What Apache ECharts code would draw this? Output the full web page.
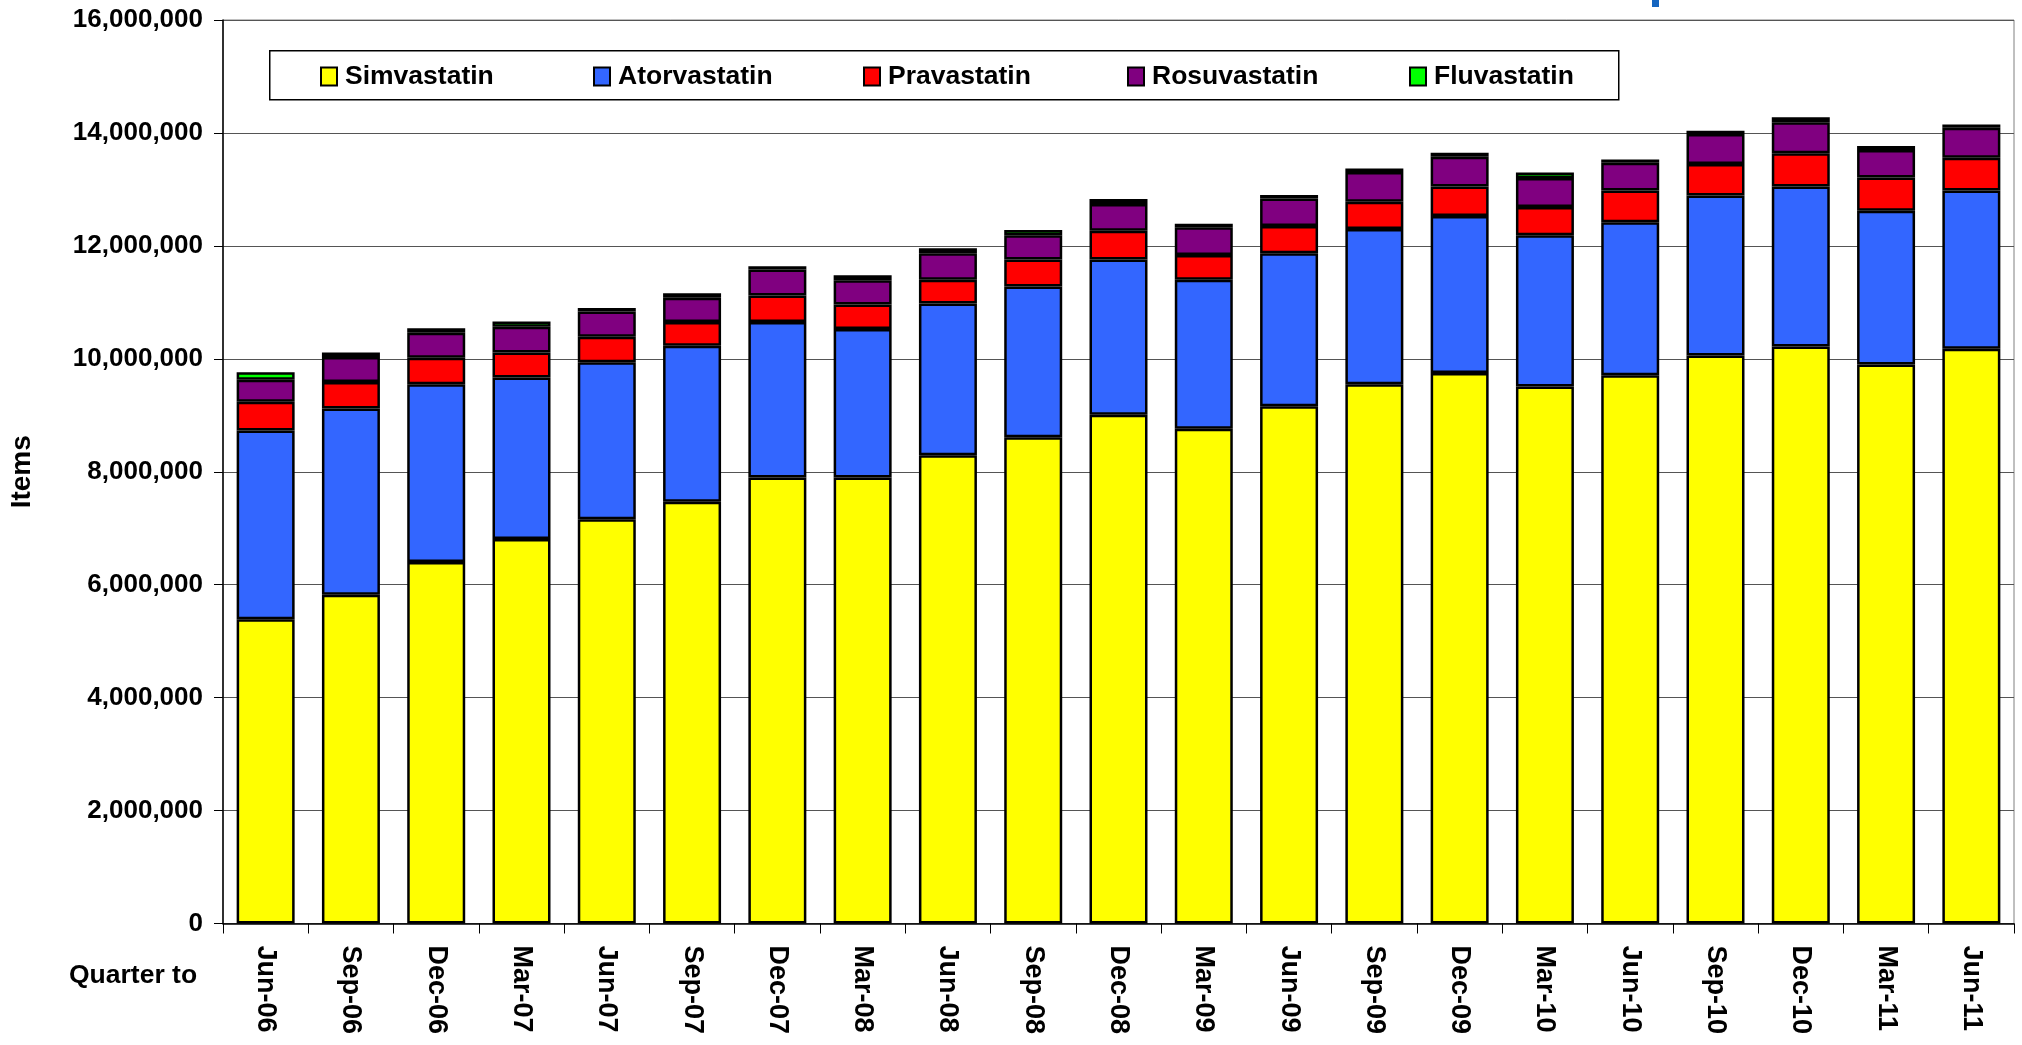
<!DOCTYPE html>
<html>
<head>
<meta charset="utf-8">
<script src="https://cdn.jsdelivr.net/npm/echarts@6/dist/echarts.min.js"></script>
<style>
  html, body { margin: 0; padding: 0; background: #fff; }
  #main { width: 2022px; height: 1045px; }
</style>
</head>
<body>
<div id="main"></div>
<script>
// quarters on the x axis
var quarters = ['Jun-06', 'Sep-06', 'Dec-06', 'Mar-07', 'Jun-07', 'Sep-07', 'Dec-07',
  'Mar-08', 'Jun-08', 'Sep-08', 'Dec-08', 'Mar-09', 'Jun-09', 'Sep-09', 'Dec-09',
  'Mar-10', 'Jun-10', 'Sep-10', 'Dec-10', 'Mar-11', 'Jun-11'];

// items per quarter
var simvastatin = [5390000, 5820000, 6400000, 6810000, 7160000, 7470000, 7900000,
  7900000, 8290000, 8610000, 9010000, 8760000, 9160000, 9550000, 9750000,
  9510000, 9710000, 10060000, 10220000, 9900000, 10180000];
var atorvastatin = [3340000, 3300000, 3150000, 2860000, 2780000, 2760000, 2750000,
  2630000, 2690000, 2670000, 2750000, 2640000, 2710000, 2750000, 2780000,
  2680000, 2710000, 2830000, 2830000, 2720000, 2800000];
var pravastatin = [510000, 470000, 470000, 440000, 450000, 420000, 470000,
  430000, 420000, 480000, 510000, 440000, 480000, 480000, 520000,
  500000, 560000, 560000, 590000, 590000, 580000];
var rosuvastatin = [390000, 440000, 440000, 460000, 450000, 430000, 460000,
  430000, 470000, 430000, 470000, 490000, 490000, 530000, 530000,
  510000, 490000, 530000, 550000, 490000, 530000];
var fluvastatin = [130000, 80000, 80000, 90000, 60000, 80000, 60000,
  90000, 90000, 90000, 90000, 60000, 60000, 60000, 70000,
  100000, 60000, 60000, 90000, 70000, 60000];

var drugs = ['Simvastatin', 'Atorvastatin', 'Pravastatin', 'Rosuvastatin', 'Fluvastatin'];
var colors = ['#ffff00', '#3366ff', '#ff0000', '#800080', '#00ff00'];
var legendX = [320, 593, 863, 1127, 1409];

var yTicks = { min: 0, max: 16000000, interval: 2000000 };

function fmt(v) {
  return String(v).replace(/\B(?=(\d{3})+(?!\d))/g, ',');
}

var font = '"Liberation Sans", Arial, sans-serif';

function bar(name, data, color) {
  return {
    name: name,
    type: 'bar',
    stack: 'total',
    barCategoryGap: '32%',
    data: data,
    itemStyle: { color: color, borderColor: '#000', borderWidth: 2.5 }
  };
}

var legends = drugs.map(function (d, i) {
  return {
    left: legendX[i], top: 63, padding: 0,
    itemWidth: 16, itemHeight: 18,
    icon: 'rect',
    itemStyle: { borderColor: '#000', borderWidth: 2 },
    textStyle: { fontFamily: font, fontSize: 26.5, fontWeight: 'bold', color: '#000', padding: [0, 0, 0, 3] },
    data: [d]
  };
});

var chart = echarts.init(document.getElementById('main'));
chart.setOption({
  backgroundColor: '#fff',
  animation: false,
  textStyle: { fontFamily: font },
  grid: {
    left: 210, right: 8, top: 20, bottom: 121.5,
    show: true, borderColor: '#808080', borderWidth: 1
  },
  legend: legends,
  graphic: [
    {
      type: 'rect', left: 269, top: 50, z: -1,
      shape: { width: 1349, height: 49 },
      style: { fill: '#fff', stroke: '#000', lineWidth: 1.5 }
    },
    {
      type: 'text', left: 69, top: 962,
      style: { text: 'Quarter to', fontFamily: font, fontSize: 26.5, fontWeight: 'bold', fill: '#000' }
    },
    {
      type: 'rect', left: 1652, top: 0,
      shape: { width: 7, height: 7 },
      style: { fill: '#1565c0' }
    }
  ],
  xAxis: {
    type: 'category',
    data: quarters,
    axisLine: { lineStyle: { color: '#000', width: 1.5 } },
    axisTick: { show: true, length: 10, lineStyle: { color: '#000' } },
    axisLabel: {
      rotate: -90, margin: 22, interval: 0,
      fontFamily: font, fontSize: 27, fontWeight: 'bold', color: '#000'
    }
  },
  yAxis: {
    type: 'value',
    min: yTicks.min, max: yTicks.max, interval: yTicks.interval,
    name: 'Items', nameLocation: 'middle', nameGap: 187, nameRotate: 90,
    nameTextStyle: { fontFamily: font, fontSize: 28, fontWeight: 'bold', color: '#000' },
    axisLine: { show: true, lineStyle: { color: '#000', width: 1.5 } },
    axisTick: { show: true, length: 9, lineStyle: { color: '#000' } },
    axisLabel: {
      margin: 20, formatter: fmt,
      fontFamily: font, fontSize: 26, fontWeight: 'bold', color: '#000'
    },
    splitLine: { lineStyle: { color: '#555', width: 1.2 } }
  },
  series: drugs.map(function (d, i) {
    return bar(d, [simvastatin, atorvastatin, pravastatin, rosuvastatin, fluvastatin][i], colors[i]);
  })
});
</script>
</body>
</html>
